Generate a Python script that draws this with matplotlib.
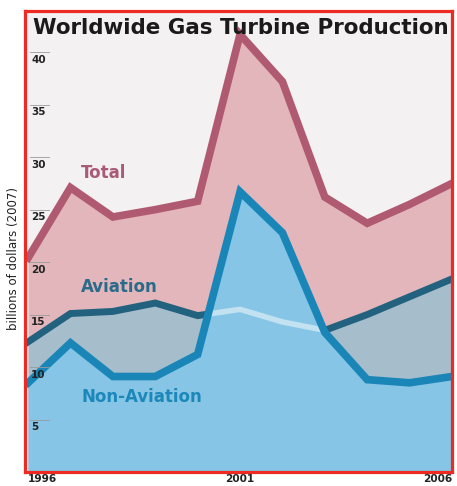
import matplotlib
matplotlib.use("Agg")
import matplotlib.pyplot as plt
import numpy as np

years = [1996, 1997, 1998, 1999, 2000, 2001, 2002, 2003, 2004, 2005, 2006]
total = [20.4, 27.1, 24.3, 25.0, 25.8, 41.7, 37.2, 26.2, 23.7, 25.5, 27.5]
aviation = [12.4, 15.1, 15.3, 16.1, 14.9, 15.5, 14.3, 13.5, 15.0, 16.7, 18.4]
non_aviation = [8.5, 12.3, 9.1, 9.1, 11.2, 26.7, 22.8, 13.3, 8.8, 8.5, 9.1]
y_ticks = [5, 10, 15, 20, 25, 30, 35, 40]
x_labels = ["1996", "2001", "2006"]
x_label_years = [1996, 2001, 2006]

fig = plt.figure(figsize=(4.57, 4.86), dpi=100)
fig.patch.set_facecolor("white")
ax = fig.add_axes([0.055, 0.0288, 0.934, 0.948])
ax.set_facecolor("#f3f1f2")
ax.set_xlim(1995.93, 2006.0)
ax.set_ylim(0, 43.9)

x = np.array(years, dtype=float)
ax.fill_between(x, 0, total, color="#e2b6bb", lw=0, zorder=1)
ax.fill_between(x, 0, aviation, color="#a6bdcc", lw=0, zorder=2)
ax.plot(x, aviation, color="#23627e", lw=5.0, solid_joinstyle="miter", zorder=2.5)
poly = ax.fill_between(x, 0, non_aviation, color="#86c5e5", lw=0, zorder=3)

ax.plot(x, total, color="#b05a72", lw=5.5, solid_joinstyle="miter", zorder=4)
light, = ax.plot(x, aviation, color="#c3e2f1", lw=4.0, solid_joinstyle="miter", zorder=6)
light.set_clip_path(poly.get_paths()[0], poly.get_transform())
ax.plot(x, non_aviation, color="#1a86b8", lw=5.5, solid_joinstyle="miter", zorder=7)

# y tick marks and labels inside axes
for v in y_ticks:
    ax.plot([1996.05, 1996.5], [v, v], color="#9a9a9a", lw=0.6, zorder=8)
    ax.text(1996.07, v - 0.25, str(v), fontsize=7.5, fontweight="bold",
            color="#222222", ha="left", va="top", zorder=9)

ax.set_xticks([])
ax.set_yticks([])
for s in ax.spines.values():
    s.set_color("#ec2b24")
    s.set_linewidth(2.3)
    s.set_zorder(10)

# x labels below frame
for yr, lab in zip(x_label_years, x_labels):
    ha = "left" if yr == 1996 else ("right" if yr == 2006 else "center")
    ax.text(yr, -0.2, lab, fontsize=7.6, fontweight="bold", color="#222222",
            ha=ha, va="top", clip_on=False)

ax.text(1996.12, 42.3, "Worldwide Gas Turbine Production", fontsize=15.4,
        fontweight="bold", color="#1a1a1a", ha="left", va="center", zorder=9)

ax.text(1997.25, 28.5, "Total", fontsize=12, fontweight="bold", color="#a95a77",
        ha="left", va="center", zorder=9)
ax.text(1997.25, 17.6, "Aviation", fontsize=12, fontweight="bold", color="#2b6b8a",
        ha="left", va="center", zorder=9)
ax.text(1997.25, 7.1, "Non-Aviation", fontsize=12, fontweight="bold", color="#1c87b9",
        ha="left", va="center", zorder=9)

fig.text(0.03, 0.469, "billions of dollars (2007)", rotation=90, fontsize=8.5,
         color="#222222", ha="center", va="center")

fig.savefig("out.png", dpi=100)
